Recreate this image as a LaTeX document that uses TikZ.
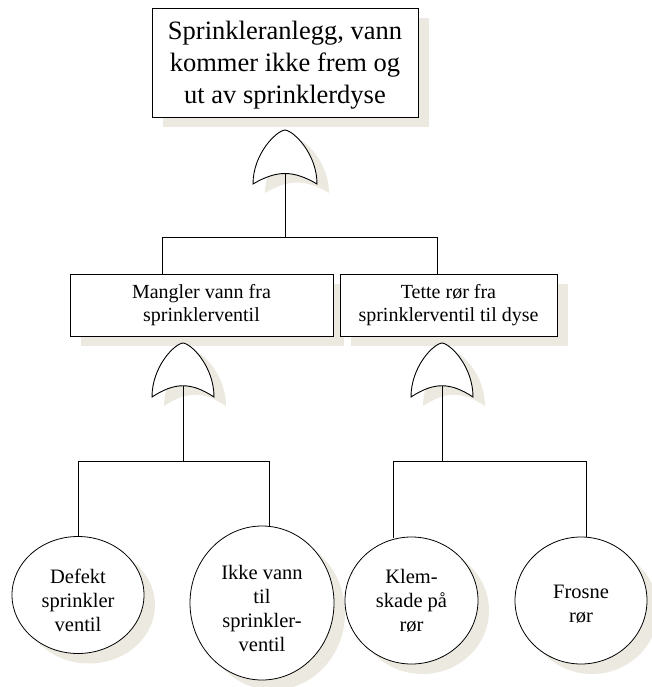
\documentclass[tikz,border=0pt]{standalone}
\usepackage{fontspec}
\setmainfont{Liberation Serif}
\usetikzlibrary{shapes.geometric}
\definecolor{shadowbeige}{HTML}{ECEAE0}
\tikzset{
  x=1pt, y=-1pt,
  every node/.style={inner sep=0pt, outer sep=0pt},
  shadowed/.style={preaction={fill=shadowbeige, draw=none, transform canvas={xshift=11pt, yshift=-10pt}}},
  event/.style={draw, line width=0.9pt, fill=white, shadowed, align=center},
  basic/.style={draw, line width=0.8pt, fill=white, shadowed, ellipse},
  caption/.style={label={[smalltext, align=center, yshift=-5pt]center:#1}},
  wire/.style={line width=0.9pt},
  bigtext/.style={font=\fontsize{26.5}{32}\selectfont},
  midtext/.style={font=\fontsize{20}{23.5}\selectfont},
  smalltext/.style={font=\fontsize{20.5}{24}\selectfont}
}
% OR gate outline: #1 = centre x, #2 = top y, #3 = corner y, #4 = notch y, #5 = half width
\newcommand{\orgatepath}[5]{
  (#1-#5,#3) .. controls (#1-#5,#2+24) and (#1-9,#2+1) .. (#1,#2)
  .. controls (#1+9,#2+1) and (#1+#5,#2+24) .. (#1+#5,#3)
  .. controls (#1+8,#4-4) and (#1-8,#4-4) .. (#1-#5,#3) -- cycle}
% OR gate with its shadow; #6 names the input point at the notch
\newcommand{\orgate}[6]{
  \begin{scope}[xshift=12pt, yshift=-9pt]
    \fill[shadowbeige] \orgatepath{#1}{#2}{#3}{#4}{#5};
  \end{scope}
  \draw[line width=0.9pt, fill=white] \orgatepath{#1}{#2}{#3}{#4}{#5};
  \coordinate (#6-in) at (#1,#4);
}
\begin{document}
\begin{tikzpicture}
\useasboundingbox (0,0) rectangle (652,687);

% top event
\node[event, minimum width=266pt, minimum height=109pt,
      label={[bigtext, align=center, yshift=-3pt]center:Sprinkleranlegg, vann\\kommer ikke frem og\\ut av sprinklerdyse}] (top) at (285,62.5) {};
\orgate{285}{130}{184}{174}{32}{g0}

% intermediate events
\node[event, midtext, minimum width=263pt, minimum height=62pt] (mangler) at (201.5,305)
  {Mangler vann fra\\sprinklerventil};
\node[event, midtext, minimum width=217pt, minimum height=62pt] (tette) at (448.5,305)
  {Tette rør fra\\sprinklerventil til dyse};
\orgate{183}{343}{397}{386}{31}{g1}
\orgate{442}{343}{397}{386}{31}{g2}

% basic events
\node[basic, minimum width=132pt, minimum height=117pt,
      caption={Defekt\\sprinkler\\ventil}] (defekt) at (78,595) {};
\node[basic, minimum width=144pt, minimum height=154pt,
      caption={Ikke vann\\til\\sprinkler-\\ventil}] (ikke) at (262,603) {};
\node[basic, minimum width=133pt, minimum height=127pt,
      label={[smalltext, align=center]center:Klem-\\skade på\\rør}] (klem) at (411.5,600.5) {};
\node[basic, minimum width=132pt, minimum height=127pt,
      label={[smalltext, align=center, yshift=-4pt]center:Frosne\\rør}] (frosne) at (581,600.5) {};

% branch points
\coordinate (j0) at (285,237);
\coordinate (j1) at (183,461);
\coordinate (j2) at (442,461);

% connectors
\draw[wire] (g0-in) -- (j0);
\draw[wire] (mangler.north -| 162,0) -- (162,237) -- (437,237) -- (tette.north -| 437,0);
\draw[wire] (g1-in) -- (j1);
\draw[wire] (defekt.north) -- (78,461) -- (269,461) -- (ikke.north -| 269,0);
\draw[wire] (g2-in) -- (j2);
\draw[wire] (klem.north -| 393,0) ++(0,1) -- (393,461) -- (586,461) -- (frosne.north -| 586,0);
\end{tikzpicture}
\end{document}
